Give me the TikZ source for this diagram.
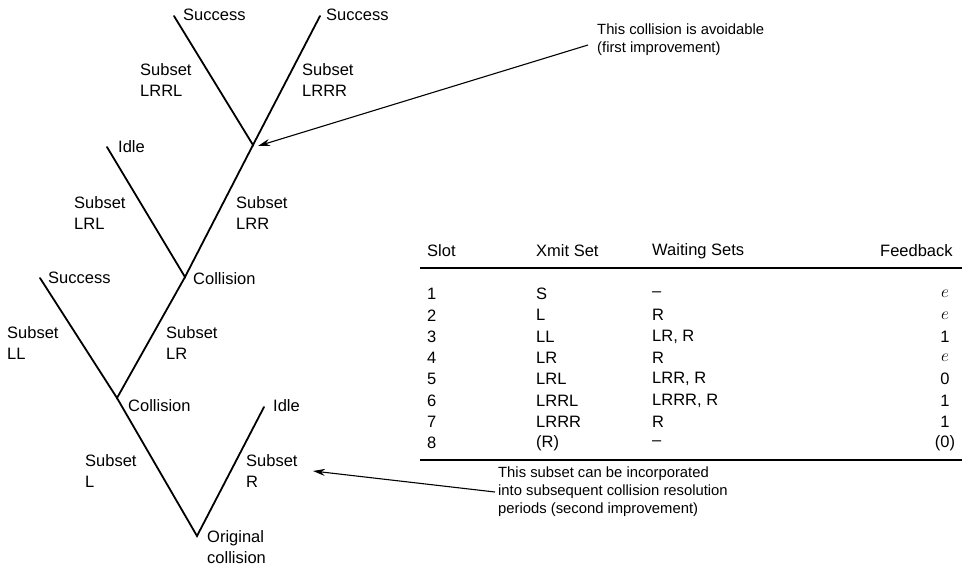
\documentclass[tikz,border=0pt]{standalone}
\usepackage{fontspec}
\setmainfont{Liberation Sans}
\usetikzlibrary{arrows.meta}
\begin{document}
\begin{tikzpicture}[x=1pt,y=-1pt,
  lbl/.style={anchor=west, inner sep=0pt, font=\fontsize{16.5}{21}\selectfont, align=left},
  note/.style={anchor=west, inner sep=0pt, font=\fontsize{14.8}{18}\selectfont, align=left},
  branch/.style={line width=1.8pt, line cap=round},
  pointer/.style={line width=1.1pt, -{Stealth[length=12pt,width=7pt]}},
  cell/.style={anchor=west, inner sep=0pt, font=\fontsize{16.5}{20}\selectfont},
  fb/.style={anchor=center, inner sep=0pt, font=\fontsize{16.5}{20}\selectfont},
  rule/.style={line width=1.3pt},
]
\useasboundingbox (0,0) rectangle (966,568);

% ---- splitting tree ----
\coordinate (O)  at (197,536);
\coordinate (C1) at (117,398);
\coordinate (I2) at (264,407);
\coordinate (S3) at (40,278);
\coordinate (C2) at (185,277);
\coordinate (I4) at (107,147);
\coordinate (C3) at (253,145);
\coordinate (S5) at (174,16);
\coordinate (S6) at (320,16);

\draw[branch] (S5) -- (C3) -- (S6);
\draw[branch] (I4) -- (C2) -- (C3);
\draw[branch] (S3) -- (C1) -- (C2);
\draw[branch] (C1) -- (O) -- (I2);

\node[lbl] (tS5) at (183,15) {Success};
\node[lbl] (tS6) at (326,15) {Success};
\node[lbl] (tLRRL) at (140,80) {Subset\\LRRL};
\node[lbl] (tLRRR) at (302,80) {Subset\\LRRR};
\node[lbl] (tI4) at (118,147) {Idle};
\node[lbl] (tLRL) at (74,213) {Subset\\LRL};
\node[lbl] (tLRR) at (236,213) {Subset\\LRR};
\node[lbl] (tC2) at (193,279) {Collision};
\node[lbl] (tS3) at (48,278) {Success};
\node[lbl] (tLL) at (7,343) {Subset\\LL};
\node[lbl] (tLR) at (166,343) {Subset\\LR};
\node[lbl] (tC1) at (128,406) {Collision};
\node[lbl] (tI2) at (273,406) {Idle};
\node[lbl] (tL) at (85,471) {Subset\\L};
\node[lbl] (tR) at (246,471) {Subset\\R};
\node[lbl] (tO) at (207,547) {Original\\collision};

% ---- annotations ----
\node[note] (note1) at (597,40) {This collision is avoidable\\(first improvement)};
\node[note] (note2) at (498,492) {This subset can be incorporated\\into subsequent collision resolution\\periods (second improvement)};
\coordinate (n1tail) at (588,45);
\coordinate (n2tail) at (495,492);
\draw[pointer] (n1tail) -- ([xshift=5pt,yshift=-1pt]C3);
\draw[pointer] (n2tail) -- (313,471);

% ---- slot table ----
\node[cell] (hSlot) at (427,251) {Slot};
\node[cell] (hXmit) at (536,251) {Xmit Set};
\node[cell] (hWait) at (652,251) {Waiting Sets};
\node[cell] (hFb)   at (880,251) {Feedback};
\draw[rule] (420,268) -- (962,268);

\foreach \i/\s/\x/\w/\f in {1/1/S/–/$e$, 2/2/L/R/$e$, 3/3/LL/{LR, R}/1, 4/4/LR/R/$e$,
    5/5/LRL/{LRR, R}/0, 6/6/LRRL/{LRRR, R}/1, 7/7/LRRR/R/1, 8/8/(R)/–/(0)}{
  \pgfmathsetmacro{\yy}{294+21.3*(\i-1)}
  \node[cell] (slot\i) at (427,\yy) {\s};
  \node[cell] (xmit\i) at (536,\yy) {\x};
  \node[cell] (wait\i) at (652,\yy) {\w};
  \node[fb]   (fb\i)   at (945,\yy) {\f};
}
\draw[rule] (420,460) -- (962,460);
\end{tikzpicture}
\end{document}
